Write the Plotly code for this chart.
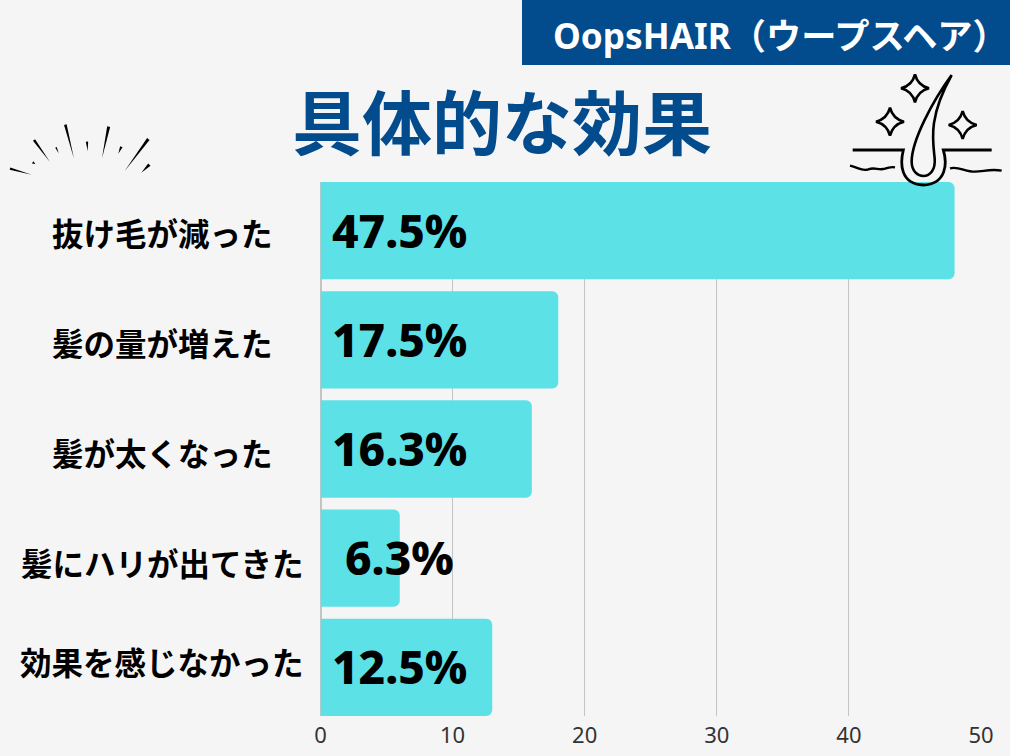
import plotly.graph_objects as go

categories = ["抜け毛が減った", "髪の量が増えた", "髪が太くなった", "髪にハリが出てきた", "効果を感じなかった"]
bar_values = [48, 18, 16, 6, 13]
value_labels = ["47.5%", "17.5%", "16.3%", "6.3%", "12.5%"]
x_ticks = [0, 10, 20, 30, 40, 50]

W, H = 1010, 756
BG = "#f5f5f5"
NAVY = "#024b8c"
BAR = "#5ce1e6"
JP = "Noto Sans CJK JP"
LATIN = "'Noto Sans', 'Noto Sans CJK JP'"
# category labels are not evenly spaced in the original
label_y = [232, 342, 452, 562, 660.5]


# pixel position -> paper coords, for the decorations
def px(x):
    return x / W


def py(y):
    return 1 - y / H


def pt(x, y):
    return f"{px(x):.5f},{py(y):.5f}"


# icon zoom coords
def iz(x, y):
    return pt(840 + x / 3, 60 + y / 3)


def star(cx, cy, r):
    k = r * 0.2
    return (
        f"M{iz(cx, cy - r)} Q{iz(cx + k, cy - k)} {iz(cx + r, cy)} "
        f"Q{iz(cx + k, cy + k)} {iz(cx, cy + r)} "
        f"Q{iz(cx - k, cy + k)} {iz(cx - r, cy)} "
        f"Q{iz(cx - k, cy - k)} {iz(cx, cy - r)} Z"
    )


skin = (
    f"M{iz(38, 270)} L{iz(190, 270)} C{iz(180, 310)} {iz(180, 372)} {iz(250, 375)} "
    f"C{iz(320, 372)} {iz(322, 310)} {iz(310, 270)} L{iz(455, 270)}"
)
hair = (
    f"M{iz(335, 45)} C{iz(280, 120)} {iz(215, 240)} {iz(215, 305)} "
    f"C{iz(215, 335)} {iz(235, 348)} {iz(250, 348)} C{iz(270, 348)} {iz(287, 330)} {iz(284, 295)} "
    f"C{iz(278, 240)} {iz(265, 170)} {iz(335, 45)}"
)
wave_l = (
    f"M{iz(30, 317)} C{iz(55, 322)} {iz(65, 335)} {iz(85, 328)} "
    f"C{iz(105, 320)} {iz(115, 332)} {iz(135, 326)} C{iz(150, 320)} {iz(155, 320)} {iz(165, 322)}"
)
wave_r = (
    f"M{iz(330, 325)} C{iz(355, 318)} {iz(375, 335)} {iz(405, 335)} "
    f"C{iz(430, 335)} {iz(450, 326)} {iz(485, 332)}"
)

shapes = [dict(type="rect", xref="paper", yref="paper", x0=px(522), x1=1, y0=py(65), y1=1,
               fillcolor=NAVY, line_width=0, layer="above")]
for d, lw in [(skin, 2.8), (hair, 2.6), (wave_l, 2.4), (wave_r, 2.4),
              (star(225, 85, 42), 2.6), (star(150, 185, 42), 2.6), (star(368, 195, 42), 2.6)]:
    shapes.append(dict(type="path", path=d, xref="paper", yref="paper",
                       line=dict(color="#000000", width=lw), layer="above"))

# burst strokes, zoom coords, thick end first
burst = [
    (30, 176, 95, 194, 7), (98, 157, 106, 162, 8), (102, 90, 150, 156, 8), (168, 112, 176, 130, 5),
    (196, 44, 222, 146, 8), (261, 95, 263, 124, 7), (326, 50, 306, 145, 9), (364, 110, 355, 131, 8),
    (445, 87, 374, 183, 9), (448, 164, 424, 188, 10),
]
for x0, y0, x1, y1, w in burst:
    dx, dy = x1 - x0, y1 - y0
    n = (dx * dx + dy * dy) ** 0.5
    ox, oy = -dy / n * w / 2, dx / n * w / 2
    z = lambda a, b: pt(a / 3, 110 + b / 3)
    path = f"M{z(x0 + ox, y0 + oy)} L{z(x1, y1)} L{z(x0 - ox, y0 - oy)} Z"
    shapes.append(dict(type="path", path=path, xref="paper", yref="paper",
                       fillcolor="#000000", line_width=0, layer="above"))

fig = go.Figure(go.Bar(
    y=categories,
    x=bar_values,
    orientation="h",
    width=0.892,
    marker=dict(color=BAR, line_width=0, cornerradius=6),
    hoverinfo="skip",
))

annotations = [
    dict(text="<b>OopsHAIR（ウープスヘア）</b>", xref="paper", yref="paper", x=px(780), y=py(35),
         xanchor="center", yanchor="middle", showarrow=False,
         font=dict(family=LATIN, size=35.2, color="#ffffff")),
    dict(text="<b>具体的な効果</b>", xref="paper", yref="paper", x=px(502), y=py(119),
         xanchor="center", yanchor="middle", showarrow=False,
         font=dict(family=JP, size=70, color=NAVY)),
]
for cat, lab, ly in zip(categories, value_labels, label_y):
    annotations.append(dict(text=f"<b>{cat}</b>", xref="paper", yref="paper", x=px(162), y=py(ly),
                            xanchor="center", yanchor="middle", showarrow=False,
                            font=dict(family=JP, size=31.5, color="#000000")))
    annotations.append(dict(text=lab, xref="x", yref="y", x=6.0, y=cat,
                            xanchor="center", yanchor="middle", showarrow=False, yshift=1,
                            font=dict(family=LATIN, size=46, weight=800, color="#000000")))

fig.update_layout(
    width=W,
    height=H,
    margin=dict(l=0, r=0, t=0, b=0, autoexpand=False),
    paper_bgcolor=BG,
    plot_bgcolor=BG,
    showlegend=False,
    shapes=shapes,
    annotations=annotations,
    xaxis=dict(
        domain=[px(320.5), px(981)],
        range=[0, 50],
        tickvals=x_ticks,
        showgrid=True,
        gridcolor="#c4c4c4",
        gridwidth=1.3,
        zeroline=True,
        zerolinecolor="#c4c4c4",
        showline=False,
        ticks="",
        ticklabelstandoff=4,
        tickfont=dict(family=LATIN, size=22, color="#333333"),
    ),
    yaxis=dict(
        domain=[py(716), py(182)],
        range=[4.446, -0.446],
        type="category",
        showticklabels=False,
        showgrid=False,
        zeroline=False,
        ticks="",
    ),
)

post = (
    "document.body.style.margin='0';"
    "document.documentElement.style.overflow='hidden';"
    "document.body.style.overflow='hidden';"
    "Plotly.relayout('{plot_id}', {width: 1010, height: 756});"
)
fig.write_html("out.html", config={"displayModeBar": False}, post_script=post)
